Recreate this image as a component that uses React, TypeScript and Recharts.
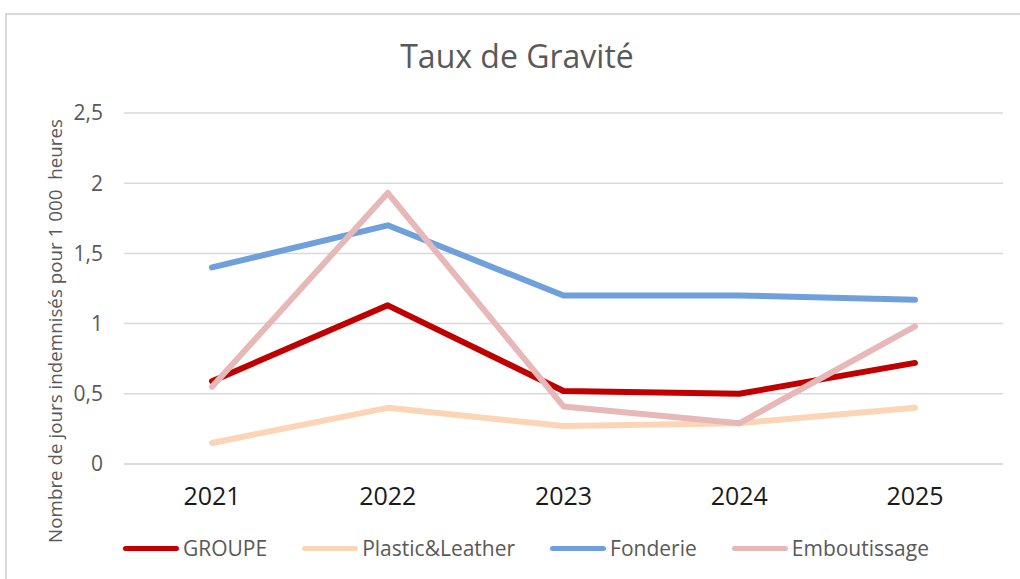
import React from 'react';
import { LineChart, Line, XAxis, YAxis, CartesianGrid } from 'recharts';

// values
const years = ['2021', '2022', '2023', '2024', '2025'];
const groupe = [0.59, 1.13, 0.52, 0.5, 0.72];
const plasticLeather = [0.15, 0.4, 0.27, 0.29, 0.4];
const fonderie = [1.4, 1.7, 1.2, 1.2, 1.17];
const emboutissage = [0.55, 1.93, 0.41, 0.29, 0.98];
const yTicks = [0, 0.5, 1, 1.5, 2, 2.5];

const series = [
  { key: 'groupe', name: 'GROUPE', color: '#c00000', values: groupe },
  { key: 'plastic', name: 'Plastic&Leather', color: '#fbd5b5', values: plasticLeather },
  { key: 'fonderie', name: 'Fonderie', color: '#6fa0dc', values: fonderie },
  { key: 'emboutissage', name: 'Emboutissage', color: '#e6b9b8', values: emboutissage },
];

const data = years.map((year, i) => {
  const row: Record<string, string | number> = { year };
  series.forEach(s => {
    row[s.key] = s.values[i];
  });
  return row;
});

const FONT = '"Open Sans", "Noto Sans", sans-serif';
const GREY = '#595959';

export default function App() {
  return (
    <div
      style={{
        position: 'fixed',
        left: 0,
        top: 0,
        width: 1020,
        height: 579,
        overflow: 'hidden',
        background: '#fff',
        fontFamily: FONT,
      }}
    >
      {/* chart border, right and bottom edges fall outside the frame */}
      <div
        style={{
          position: 'absolute',
          left: 5,
          top: 13,
          width: 1100,
          height: 700,
          border: '2px solid #d9d9d9',
        }}
      />

      {/* Title */}
      <div
        style={{
          position: 'absolute',
          left: 317,
          top: 34,
          width: 400,
          textAlign: 'center',
          fontSize: 32,
          color: GREY,
          lineHeight: 'normal',
        }}
      >
        Taux de Gravité
      </div>

      {/* Y axis title */}
      <div
        style={{
          position: 'absolute',
          left: 55,
          top: 331,
          transform: 'translate(-50%, -50%) rotate(-90deg)',
          whiteSpace: 'pre',
          fontSize: 18.8,
          color: GREY,
          lineHeight: 'normal',
        }}
      >
        {'Nombre de jours indemnisés pour 1 000  heures'}
      </div>

      <div style={{ position: 'absolute', left: 0, top: 0 }}>
        <LineChart
          width={1020}
          height={579}
          data={data}
          margin={{ top: 113, right: 17, bottom: 55, left: 0 }}
        >
          <CartesianGrid vertical={false} stroke="#d9d9d9" strokeWidth={1.5} />
          <XAxis
            dataKey="year"
            height={60}
            padding={{ left: 88, right: 88 }}
            axisLine={{ stroke: '#d9d9d9', strokeWidth: 1.5 }}
            tickLine={false}
            tickMargin={17}
            tick={{ fontSize: 25, fill: '#1a1a1a' }}
          />
          <YAxis
            width={124}
            domain={[0, 2.5]}
            ticks={yTicks}
            axisLine={false}
            tickLine={false}
            tickMargin={15}
            tick={{ fontSize: 21, fill: GREY }}
            tickFormatter={(v: number) => String(v).replace('.', ',')}
          />
          {series.map(s => (
            <Line
              key={s.key}
              type="linear"
              dataKey={s.key}
              name={s.name}
              stroke={s.color}
              strokeWidth={6}
              strokeLinecap="round"
              strokeLinejoin="round"
              dot={false}
              activeDot={false}
              isAnimationActive={false}
            />
          ))}
        </LineChart>
      </div>

      {/* Legend */}
      <div
        style={{
          position: 'absolute',
          left: 123,
          top: 534,
          display: 'flex',
          alignItems: 'center',
          gap: 35,
          fontSize: 21,
          color: GREY,
          lineHeight: '28px',
        }}
      >
        {series.map(s => (
          <div key={s.key} style={{ display: 'flex', alignItems: 'center', gap: 4 }}>
            <div
              style={{
                width: 56,
                height: 5,
                borderRadius: 3,
                background: s.color,
              }}
            />
            <span>{s.name}</span>
          </div>
        ))}
      </div>
    </div>
  );
}
